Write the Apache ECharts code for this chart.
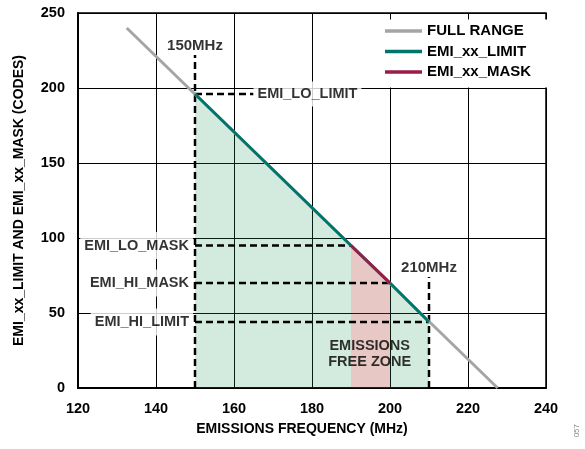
<!DOCTYPE html>
<html>
<head>
<meta charset="utf-8">
<script src="https://cdn.jsdelivr.net/npm/echarts@6/dist/echarts.min.js"></script>
<style>
  html, body { margin: 0; padding: 0; background: #fff; }
  #chart { width: 585px; height: 449px; }
</style>
</head>
<body>
<div id="chart"></div>
<script>
// values
const fullRangeFreqs = [132.5, 227.6]
const fullRangeCodes = [240, 0]
const limitFreqs = [150, 190, 200, 210]
const limitCodes = [196, 95, 70, 44]
const maskFreqs = [190, 200]
const maskCodes = [95, 70]
const limitNames = ['EMI_LO_LIMIT', 'EMI_LO_MASK', 'EMI_HI_MASK', 'EMI_HI_LIMIT']
const limitLevels = [196, 95, 70, 44]
const levelEnds = [165, 190, 200, 210]
const markerFreqs = [150, 210]
const markerTops = [222, 74]
const markerNames = ['150MHz', '210MHz']
const xTicks = [120, 140, 160, 180, 200, 220, 240]
const yTicks = [0, 50, 100, 150, 200, 250]

const FONT = 'Liberation Sans, Arial, sans-serif'
const GRAY = '#a5a5a5'
const TEAL = '#00756c'
const MAROON = '#9d1c46'
// translucent fills so the grid shows through as on the original
const GREEN_FILL = 'rgba(35,155,90,0.2)'
const PINK_FILL = 'rgba(178,72,62,0.3)'

const zip = (xs, ys) => xs.map((x, i) => [x, ys[i]])
const dash = { color: '#000', width: 2.5, type: [7, 4] }

const guideSeries = []
// vertical frequency markers
markerFreqs.forEach((f, i) => {
  guideSeries.push({
    type: 'line', symbol: 'none', silent: true, z: 4,
    data: [[f, 0], [f, markerTops[i]]],
    lineStyle: dash,
  })
})
// horizontal level markers
limitLevels.forEach((lv, i) => {
  guideSeries.push({
    type: 'line', symbol: 'none', silent: true, z: 4,
    data: [[limitFreqs[0], lv], [levelEnds[i], lv]],
    lineStyle: dash,
  })
})

// green area under the limit line, split around the mask band
const limitPts = zip(limitFreqs, limitCodes)
const fillParts = [
  { pts: limitPts.filter(p => p[0] <= maskFreqs[0]), color: GREEN_FILL },
  { pts: zip(maskFreqs, maskCodes), color: PINK_FILL },
  { pts: limitPts.filter(p => p[0] >= maskFreqs[1]), color: GREEN_FILL },
]
const fillSeries = fillParts.map(part => ({
  type: 'line', symbol: 'none', silent: true, z: 1,
  data: part.pts,
  lineStyle: { width: 0 },
  areaStyle: { color: part.color, opacity: 1 },
}))

const textStyle = { fontFamily: FONT, fontWeight: 'bold', color: '#000' }

const labelData = []
markerNames.forEach((n, i) => {
  labelData.push({
    value: [markerFreqs[i], markerTops[i]],
    label: { show: true, formatter: n, position: 'top', distance: 2, fontSize: 15, ...textStyle },
  })
})
limitNames.forEach((n, i) => {
  const first = i === 0
  labelData.push({
    value: [first ? levelEnds[0] : limitFreqs[0], limitLevels[i]],
    label: {
      show: true, formatter: n,
      position: first ? 'right' : 'left',
      distance: first ? 0 : 2,
      fontSize: 14.5, ...textStyle,
      backgroundColor: '#fff',
      padding: first ? [7, 4, 3, 4] : [6, 4, 6, 4],
    },
  })
})
labelData.push({
  value: [194.8, 22.7],
  label: {
    show: true, formatter: 'EMISSIONS\nFREE ZONE', position: 'inside',
    fontSize: 14.5, lineHeight: 15.5, align: 'center', ...textStyle,
  },
})

const chart = echarts.init(document.getElementById('chart'), null, { renderer: 'canvas' })
chart.setOption({
  animation: false,
  grid: {
    left: 78, right: 39, top: 13, bottom: 61,
    show: true, borderColor: '#000', borderWidth: 1.5,
  },
  legend: {
    data: ['FULL RANGE', 'EMI_xx_LIMIT', 'EMI_xx_MASK'],
    orient: 'vertical',
    left: 383, top: 19.5,
    icon: 'rect', itemWidth: 37, itemHeight: 3.5, itemGap: 5.5,
    backgroundColor: '#fff',
    padding: [4, 20, 8, 2],
    textStyle: { fontFamily: FONT, fontWeight: 'bold', fontSize: 15, color: '#000' },
  },
  xAxis: {
    type: 'value', min: xTicks[0], max: xTicks[xTicks.length - 1], interval: 20,
    name: 'EMISSIONS FREQUENCY (MHz)', nameLocation: 'middle', nameGap: 34,
    nameTextStyle: { fontFamily: FONT, fontWeight: 'bold', fontSize: 14, color: '#000', padding: [0, 20, 0, 0] },
    axisLine: { lineStyle: { color: '#000', width: 2 } },
    axisTick: { show: false },
    axisLabel: { fontFamily: FONT, fontWeight: 'bold', fontSize: 14.5, color: '#000', margin: 13 },
    splitLine: { lineStyle: { color: '#000', width: 1, opacity: 1 } },
  },
  yAxis: {
    type: 'value', min: yTicks[0], max: yTicks[yTicks.length - 1], interval: 50,
    name: 'EMI_xx_LIMIT AND EMI_xx_MASK (CODES)', nameLocation: 'middle', nameGap: 52,
    nameTextStyle: { fontFamily: FONT, fontWeight: 'bold', fontSize: 14, color: '#000' },
    axisLine: { show: true, lineStyle: { color: '#000', width: 2 } },
    axisTick: { show: false },
    axisLabel: { fontFamily: FONT, fontWeight: 'bold', fontSize: 14.5, color: '#000', margin: 13 },
    splitLine: { lineStyle: { color: '#000', width: 1, opacity: 1 } },
  },
  series: [
    ...fillSeries,
    ...guideSeries,
    {
      name: 'FULL RANGE', type: 'line', symbol: 'none', z: 5, color: GRAY,
      data: zip(fullRangeFreqs, fullRangeCodes),
      lineStyle: { color: GRAY, width: 3 },
    },
    {
      name: 'EMI_xx_LIMIT', type: 'line', symbol: 'none', z: 6, color: TEAL,
      data: limitPts,
      lineStyle: { color: TEAL, width: 3 },
    },
    {
      name: 'EMI_xx_MASK', type: 'line', symbol: 'none', z: 7, color: MAROON,
      data: zip(maskFreqs, maskCodes),
      lineStyle: { color: MAROON, width: 3 },
    },
    {
      name: 'labels', type: 'scatter', symbolSize: 0, silent: true, z: 8,
      data: labelData,
    },
  ],
  graphic: [
    {
      type: 'text', left: 573, top: 424, rotation: Math.PI / 2,
      style: { text: '057', fontFamily: FONT, fontSize: 8, fill: '#888' },
    },
  ],
})
</script>
</body>
</html>
